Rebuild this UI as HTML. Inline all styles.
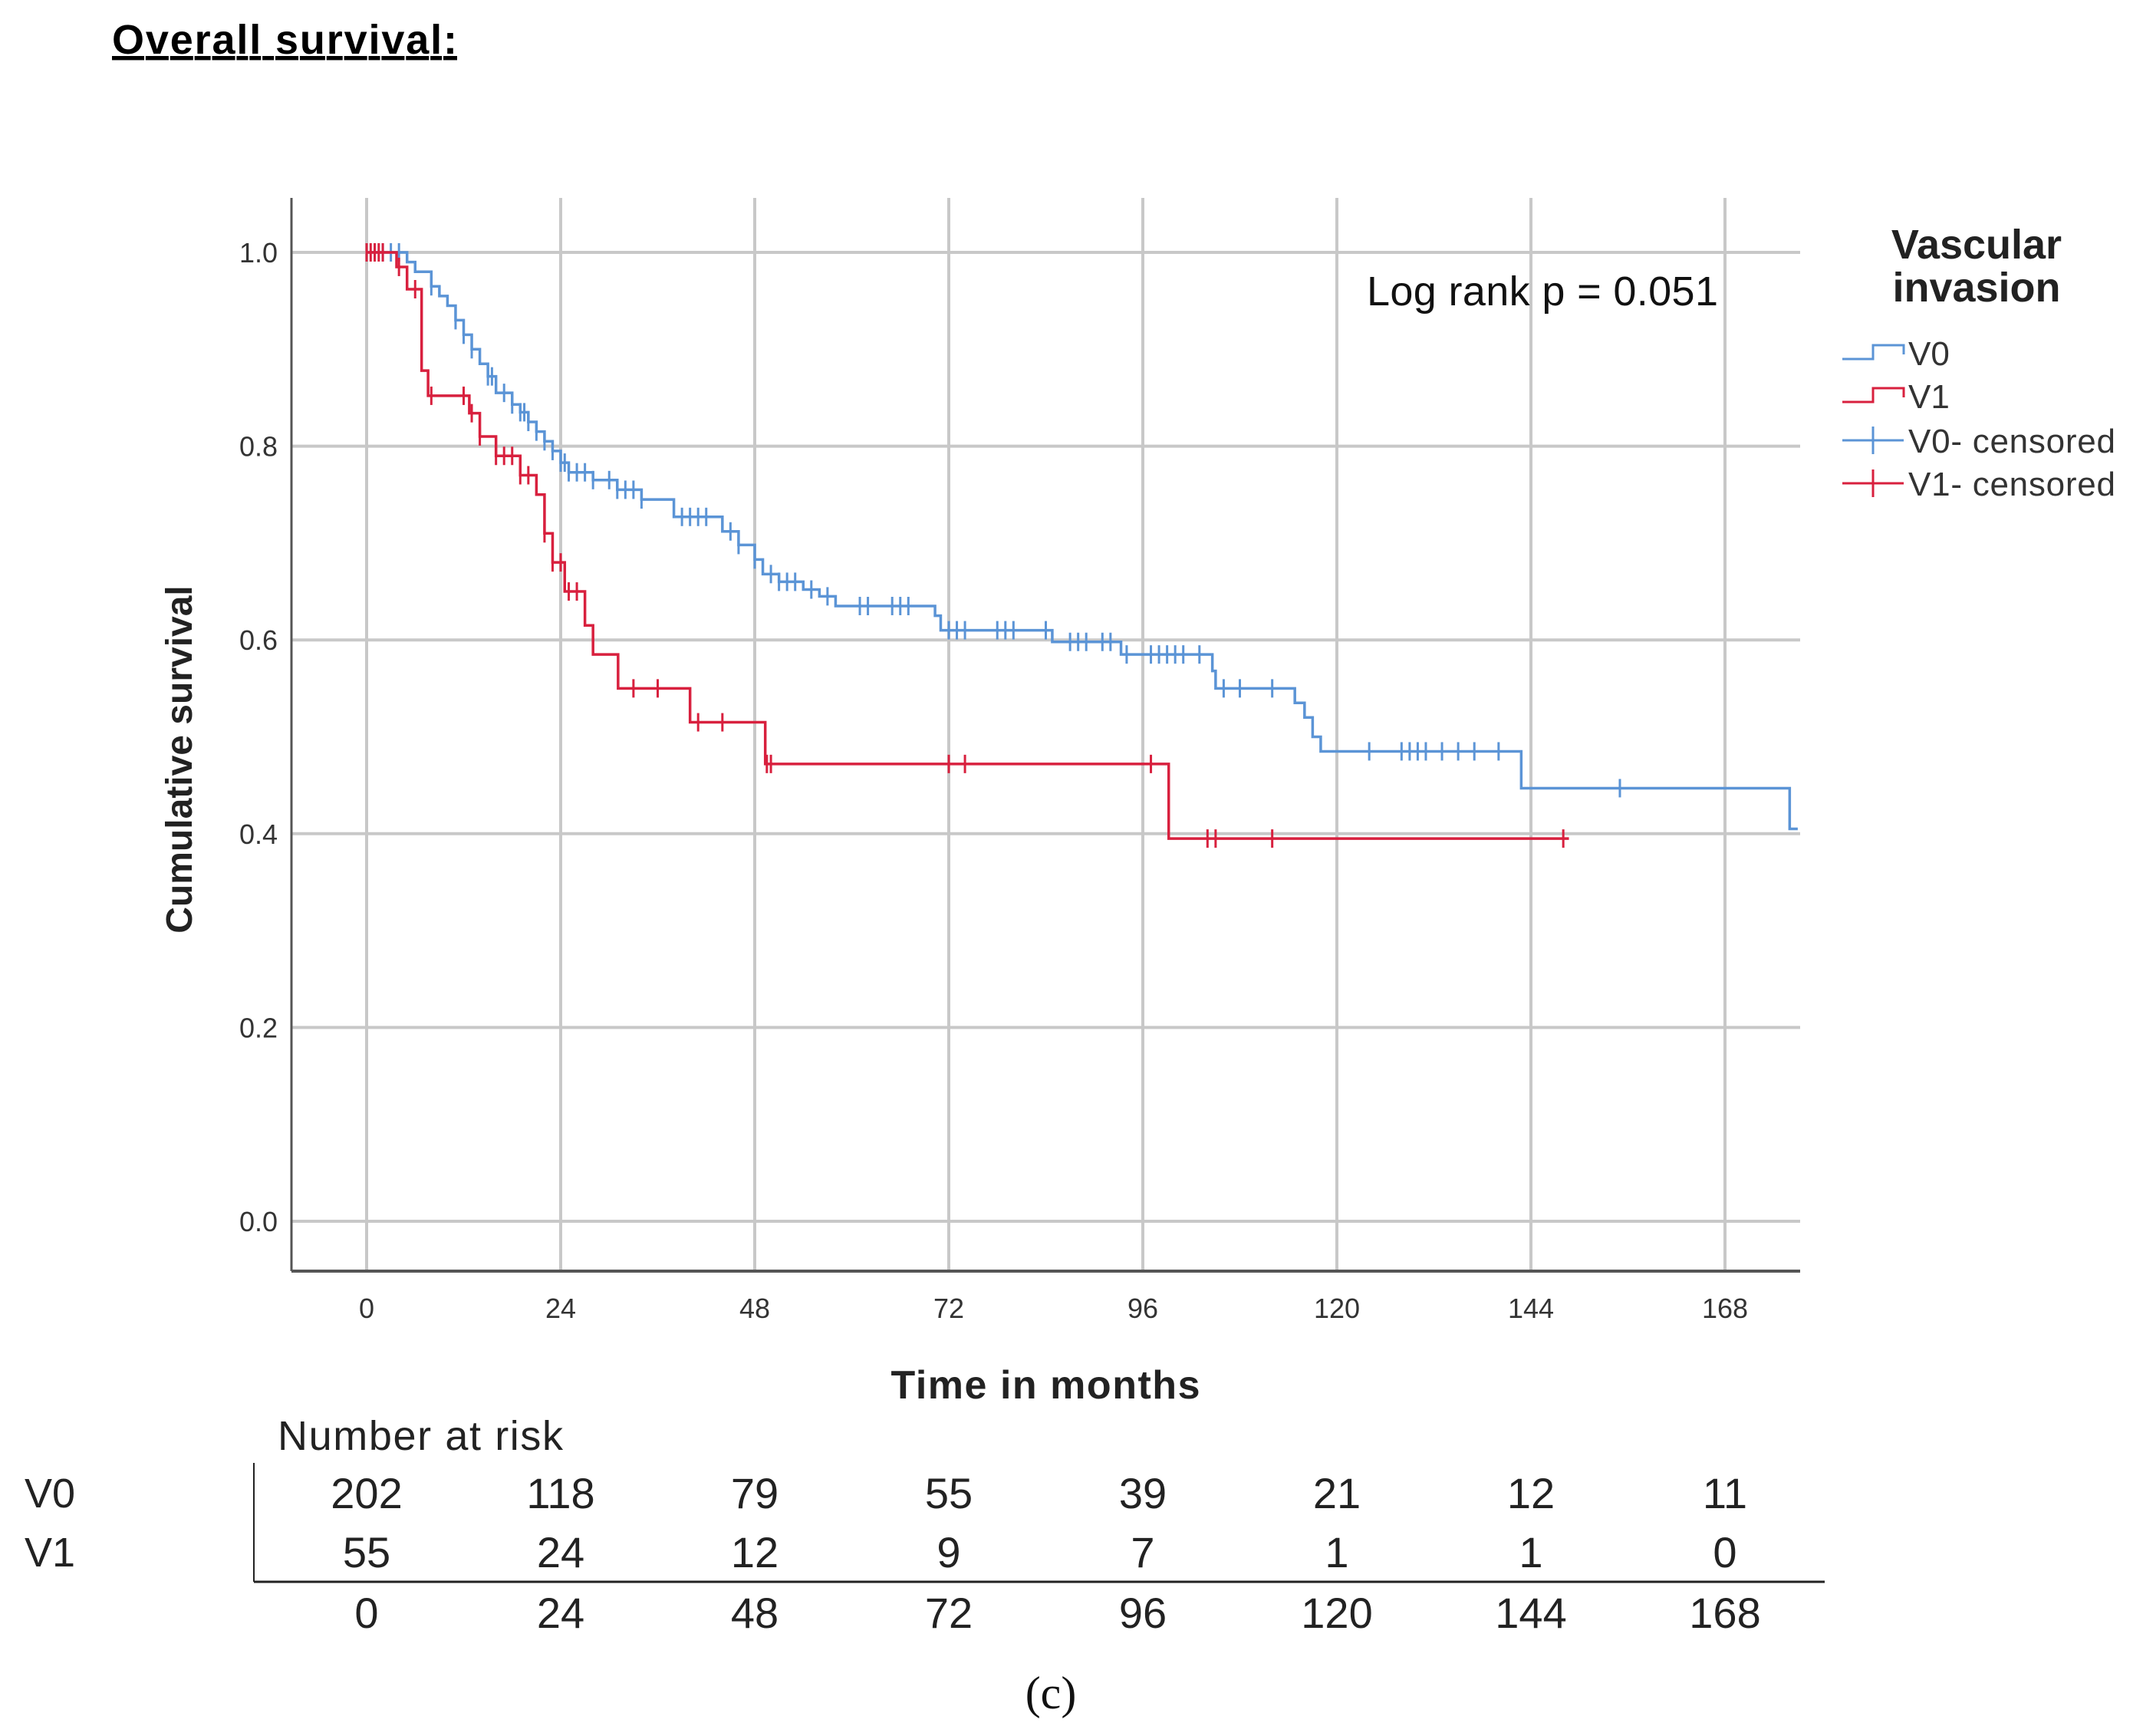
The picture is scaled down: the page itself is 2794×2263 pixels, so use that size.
<!DOCTYPE html>
<html><head><meta charset="utf-8">
<style>
html,body{margin:0;padding:0;background:#fff;}
body{width:2794px;height:2263px;overflow:hidden;position:relative;font-family:"Liberation Sans",sans-serif;}
svg{position:absolute;left:0;top:0;}
</style></head>
<body>
<svg id="chart" width="2794" height="2263" viewBox="0 0 2794 2263">
<text x="146" y="70" font-size="54" font-weight="bold" text-decoration="underline" fill="#000" textLength="450">Overall survival:</text>
<g id="grid"></g>
<g id="curves"></g>
<text x="1782" y="398" font-size="54" fill="#111" textLength="458">Log rank p = 0.051</text>
<text transform="translate(250,990) rotate(-90)" text-anchor="middle" font-size="48" font-weight="bold" fill="#222">Cumulative survival</text>
<text x="1363" y="1823" text-anchor="middle" font-size="52" font-weight="bold" fill="#222" textLength="403">Time in months</text>
<g>
<text x="2577" y="337" text-anchor="middle" font-size="54" font-weight="bold" fill="#222">Vascular</text>
<text x="2577" y="393" text-anchor="middle" font-size="54" font-weight="bold" fill="#222">invasion</text>
<path d="M2402 468 H2442 V450 H2482 V462" fill="none" stroke="#5b94d6" stroke-width="3"/>
<text x="2488" y="476" font-size="44" fill="#333">V0</text>
<path d="M2402 524 H2442 V506 H2482 V518" fill="none" stroke="#d8203e" stroke-width="3"/>
<text x="2488" y="532" font-size="44" fill="#333">V1</text>
<path d="M2402 574 H2482 M2442 556 V592" stroke="#5b94d6" stroke-width="3"/>
<text x="2488" y="590" font-size="44" fill="#333" textLength="270">V0- censored</text>
<path d="M2402 630 H2482 M2442 612 V648" stroke="#d8203e" stroke-width="3"/>
<text x="2488" y="646" font-size="44" fill="#333" textLength="270">V1- censored</text>
</g>
<g id="risk">
<text x="362" y="1890" font-size="54" fill="#222" textLength="372">Number at risk</text>
<text x="32" y="1965" font-size="54" fill="#222">V0</text>
<text x="32" y="2042" font-size="54" fill="#222">V1</text>
<line x1="331" y1="1907" x2="331" y2="2062" stroke="#222" stroke-width="2"/>
<line x1="331" y1="2062" x2="2379" y2="2062" stroke="#222" stroke-width="3"/>
</g>
<text x="1370" y="2227" text-anchor="middle" font-size="60" font-family="Liberation Serif, serif" fill="#111">(c)</text>
</svg>
<script>
// ---- data ----
const xTicks = [0,24,48,72,96,120,144,168];
const yTicks = [0,0.2,0.4,0.6,0.8,1.0];
const yTickLabels = ["0.0","0.2","0.4","0.6","0.8","1.0"];
const v0Times = [5,6,8,9,10,11,12,13,14,15,16,18,19,20,21,22,23,24,25,28,31,34,38,44,46,48,49,51,54,56,58,70.3,71,84.8,93.3,104.6,105,107,114.8,116,117,118,142.8,176];
const v0Surv  = [0.99,0.98,0.965,0.955,0.945,0.93,0.915,0.9,0.885,0.872,0.855,0.843,0.835,0.825,0.815,0.805,0.795,0.783,0.773,0.765,0.755,0.745,0.727,0.712,0.698,0.683,0.668,0.66,0.652,0.645,0.635,0.625,0.61,0.598,0.585,0.568,0.55,0.55,0.535,0.52,0.5,0.485,0.447,0.405];
const v0End = 177;
const v0Censor = [1,2,3,4,8,11,12,13,15,15.5,17,18,19,19.5,20,21,22,23,24,24.5,25,26,27,28,30,31,32,33,34,39,40,41,42,45,46,48,50,51,52,53,55,57,61,62,65,66,67,72,73,74,78,79,80,84,87,88,89,91,92,94,97,98,99,100,101,103,106,108,112,124,128,129,130,131,133,135,137,140,155];
const v1Times = [3.7,5,6.8,7.6,12.7,14,16,19,21,22,23,24.5,27,28,31.1,40,49.3,99.2];
const v1Surv  = [0.985,0.962,0.878,0.852,0.834,0.81,0.79,0.77,0.75,0.71,0.68,0.65,0.615,0.585,0.55,0.515,0.472,0.395];
const v1End = 148.7;
const v1Censor = [0,0.5,1,1.5,2,4,6,8,12,13,14,16,17,18,19,20,22,23,24,25,26,33,36,41,44,49.5,50,72,74,97,104,105,112,148];
const riskV0 = [202,118,79,55,39,21,12,11];
const riskV1 = [55,24,12,9,7,1,1,0];

// ---- axes ----
const X0=478, X168=2249, Y1=329, Y0=1592;
const PL=380, PR=2347, PT=258, PB=1657;
function xs(m){return X0+(X168-X0)*m/168;}
function ys(s){return Y0-(Y0-Y1)*s;}
const NS="http://www.w3.org/2000/svg";
function el(tag,attrs,parent){const e=document.createElementNS(NS,tag);for(const k in attrs)e.setAttribute(k,attrs[k]);parent.appendChild(e);return e;}
const grid=document.getElementById('grid');
xTicks.forEach((t,i)=>{
  const g=el('line',{x1:xs(t),x2:xs(t),y1:PT,y2:PB,stroke:'#c8c8c8','stroke-width':4},grid);
  
  
  const lb=el('text',{x:xs(t),y:1718,'text-anchor':'middle','font-size':36,fill:'#333'},grid);
  lb.textContent=t;
  
  
});
yTicks.forEach((v,i)=>{
  const g=el('line',{x1:PL,x2:PR,y1:ys(v),y2:ys(v),stroke:'#c8c8c8','stroke-width':4},grid);
  
  
  const lb=el('text',{x:362,y:ys(v)+13,'text-anchor':'end','font-size':36,fill:'#333'},grid);
  lb.textContent=yTickLabels[i];
  
  
});
const ax1=el('line',{x1:PL,x2:PL,y1:PT,y2:PB,stroke:'#555','stroke-width':3},grid);


const ax2=el('line',{x1:PL,x2:PR,y1:PB,y2:PB,stroke:'#555','stroke-width':4},grid);



// ---- curves ----
const curves=document.getElementById('curves');
function survAt(times,surv,t){let s=1;for(let i=0;i<times.length;i++){if(times[i]<=t)s=surv[i];}return s;}
function drawCurve(times,surv,end,censor,color,name){
  let d='M'+xs(0)+' '+ys(1);
  for(let i=0;i<times.length;i++){d+=' H'+xs(times[i])+' V'+ys(surv[i]);}
  d+=' H'+xs(end);
  const p=el('path',{d:d,fill:'none',stroke:color,'stroke-width':3.5},curves);
  
  
  censor.forEach(t=>{
    const y=ys(survAt(times,surv,t));
    const c=el('line',{x1:xs(t),x2:xs(t),y1:y-12,y2:y+12,stroke:color,'stroke-width':3},curves);
    
    
  });
}
drawCurve(v0Times,v0Surv,v0End,v0Censor,'#5b94d6','v0');
drawCurve(v1Times,v1Surv,v1End,v1Censor,'#d8203e','v1');

// ---- risk table ----
const risk=document.getElementById('risk');
xTicks.forEach((t,i)=>{
  const a=el('text',{x:xs(t),y:1966,'text-anchor':'middle','font-size':56,fill:'#222'},risk);
  a.textContent=riskV0[i];
  
  
  const b=el('text',{x:xs(t),y:2043,'text-anchor':'middle','font-size':56,fill:'#222'},risk);
  b.textContent=riskV1[i];
  
  
  const c=el('text',{x:xs(t),y:2122,'text-anchor':'middle','font-size':56,fill:'#222'},risk);
  c.textContent=t;
  
  
});
</script>
</body></html>
